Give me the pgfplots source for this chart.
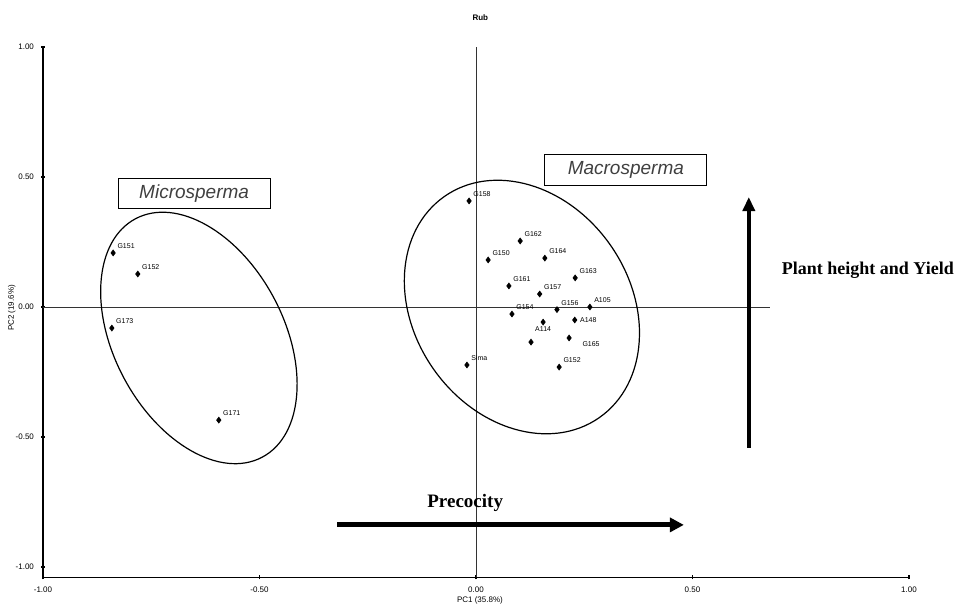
\documentclass[border=0pt]{standalone}
\usepackage{pgfplots}
\pgfplotsset{compat=1.18}
\usepackage{fontspec}
\setmainfont{Liberation Sans}
\newfontfamily\serifb{Liberation Serif}
\usetikzlibrary{arrows.meta}
\tikzset{lbl/.style={font=\fontsize{3.5}{4}\selectfont, inner sep=0.5pt}}

\pgfplotstableread{
x y label
-0.838 0.208 G151
-0.781 0.127 G152
-0.841 -0.081 G173
-0.594 -0.435 G171
}\micro

\pgfplotstableread{
x y label
-0.016 0.408 G158
0.102 0.254 G162
0.028 0.181 G150
0.159 0.188 G164
0.076 0.081 G161
0.229 0.112 G163
0.147 0.050 G157
0.083 -0.027 G154
0.187 -0.010 G156
0.263 0.000 A105
0.192 -0.231 G152
-0.021 -0.223 Sima
}\macroA

\pgfplotstableread{
x y label
0.155 -0.058 A114
0.127 -0.135 {}
}\macroB

\pgfplotstableread{
x y label
0.228 -0.050 A148
}\macroC

\pgfplotstableread{
x y label
0.215 -0.119 G165
}\macroD

\begin{document}
\begin{tikzpicture}
\begin{axis}[
  scale only axis, width=433pt, height=265.2pt,
  xmin=-1, xmax=1, ymin=-1.04, ymax=1,
  axis lines=left, axis line style={-, line width=0.9pt},
  xtick={-1,-0.5,0,0.5,1}, ytick={-1,-0.5,0,0.5,1},
  major tick length=2pt, tick style={black, line width=0.6pt},
  tick label style={font=\fontsize{4}{4}\selectfont},
  /pgf/number format/fixed,
  /pgf/number format/fixed zerofill,
  /pgf/number format/precision=2,
  /pgf/number format/assume math mode=true,
  clip=false,
]
\path (axis cs:-1.0993,-1.1654) rectangle (axis cs:1.1339,1.1808);

\draw[line width=0.5pt, black!80] (axis cs:-1,0) -- (axis cs:0.679,0);
\draw[line width=0.5pt, black!80] (axis cs:0,-1.04) -- (axis cs:0,1);

\addplot[only marks, mark=diamond*, mark size=1.4pt, black,
  nodes near coords, point meta=explicit symbolic,
  nodes near coords style={lbl, anchor=south west, xshift=1.5pt, yshift=1.5pt}]
  table[meta=label] {\micro};
\addplot[only marks, mark=diamond*, mark size=1.4pt, black,
  nodes near coords, point meta=explicit symbolic,
  nodes near coords style={lbl, anchor=south west, xshift=1.5pt, yshift=1.5pt}]
  table[meta=label] {\macroA};
\addplot[only marks, mark=diamond*, mark size=1.4pt, black,
  nodes near coords, point meta=explicit symbolic,
  nodes near coords style={lbl, anchor=north, yshift=-1.5pt}]
  table[meta=label] {\macroB};
\addplot[only marks, mark=diamond*, mark size=1.4pt, black,
  nodes near coords, point meta=explicit symbolic,
  nodes near coords style={lbl, anchor=west, xshift=2pt}]
  table[meta=label] {\macroC};
\addplot[only marks, mark=diamond*, mark size=1.4pt, black,
  nodes near coords, point meta=explicit symbolic,
  nodes near coords style={lbl, anchor=north west, xshift=6pt, yshift=-1pt}]
  table[meta=label] {\macroD};

\draw[line width=0.6pt] (axis cs:-0.640,-0.119) ellipse [x radius=67.5pt, y radius=42.5pt, rotate=-62];
\draw[line width=0.6pt] (axis cs:0.106,0.0) ellipse [x radius=67.5pt, y radius=54pt, rotate=-55];

\node[draw, line width=0.6pt, minimum width=76pt, minimum height=15pt, inner sep=0pt,
  text=black!75, font=\itshape\fontsize{9.5}{11}\selectfont] at (axis cs:-0.651,0.438) {Microsperma};
\node[draw, line width=0.6pt, minimum width=81pt, minimum height=15.5pt, inner sep=0pt,
  text=black!75, font=\itshape\fontsize{9.5}{11}\selectfont] at (axis cs:0.346,0.527) {Macrosperma};

\draw[line width=2.5pt, -{Triangle[length=7pt,width=7pt]}] (axis cs:-0.321,-0.838) -- (axis cs:0.480,-0.838);
\draw[line width=2pt, -{Triangle[length=7pt,width=6pt]}] (axis cs:0.630,-0.542) -- (axis cs:0.630,0.423);

\node[font=\serifb\bfseries\fontsize{9.5}{11}\selectfont] at (axis cs:-0.025,-0.754) {Precocity};
\node[font=\serifb\bfseries\fontsize{9}{11}\selectfont] at (axis cs:0.905,0.142) {Plant height and Yield};

\node[font=\bfseries\fontsize{4}{4}\selectfont] at (axis cs:0.01,1.112) {Rub};
\node[font=\fontsize{4}{4}\selectfont] at (axis cs:0.009,-1.127) {PC1 (35.8\%)};
\node[font=\fontsize{4}{4}\selectfont, rotate=90] at (axis cs:-1.072,-0.004) {PC2 (19.6\%)};
\end{axis}
\end{tikzpicture}
\end{document}
